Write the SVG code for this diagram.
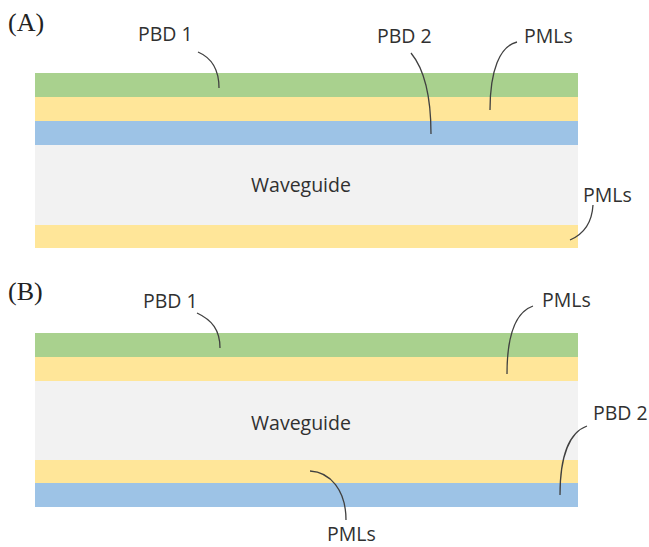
<svg xmlns="http://www.w3.org/2000/svg" width="649" height="547" viewBox="0 0 649 547">
<style>
.g{fill:#a9d18e}.y{fill:#ffe699}.b{fill:#9dc3e6}.w{fill:#f2f2f2}
.lbl{font-family:"Open Sans","DejaVu Sans",sans-serif;font-size:19.5px;fill:#303030}
.pl{font-family:"Liberation Serif","Times New Roman",serif;font-size:26px;fill:#222}
.ld{fill:none;stroke:#404040;stroke-width:1.3}
</style>
<rect width="649" height="547" fill="#fff"/>
<text class="pl" x="8" y="31">(A)</text>
<text class="pl" x="8" y="300">(B)</text>
<g id="panelA">
<rect class="g" x="35" y="73" width="543" height="24"/>
<rect class="y" x="35" y="97" width="543" height="24"/>
<rect class="b" x="35" y="121" width="543" height="24"/>
<rect class="w" x="35" y="145" width="543" height="80"/>
<rect class="y" x="35" y="225" width="543" height="23"/>
<text class="lbl" x="301" y="192" text-anchor="middle">Waveguide</text>
</g>
<g id="panelB">
<rect class="g" x="35" y="333" width="543" height="24"/>
<rect class="y" x="35" y="357" width="543" height="24"/>
<rect class="w" x="35" y="381" width="543" height="79"/>
<rect class="y" x="35" y="460" width="543" height="23"/>
<rect class="b" x="35" y="483" width="543" height="24"/>
<text class="lbl" x="301" y="430" text-anchor="middle">Waveguide</text>
</g>
<g id="labels">
<text class="lbl" x="138" y="41">PBD 1</text>
<text class="lbl" x="377" y="43">PBD 2</text>
<text class="lbl" x="524" y="43">PMLs</text>
<text class="lbl" x="583" y="202">PMLs</text>
<text class="lbl" x="143" y="308">PBD 1</text>
<text class="lbl" x="542" y="307">PMLs</text>
<text class="lbl" x="593" y="420">PBD 2</text>
<text class="lbl" x="327" y="541">PMLs</text>
</g>
<g id="connectors">
<path class="ld" d="M198,52 C212,58 219,70 219,88"/>
<path class="ld" d="M411,53 C425,70 431,100 431,134"/>
<path class="ld" d="M517,42 C500,46 490,70 490,110"/>
<path class="ld" d="M593,205 C592,222 584,234 570,240"/>
<path class="ld" d="M197,313 C212,320 220,330 220,348"/>
<path class="ld" d="M533,306 C516,312 507,335 507,374"/>
<path class="ld" d="M587,426 C570,432 560,455 560,495"/>
<path class="ld" d="M310,471 C330,472 346,490 346,520"/>
</g>
</svg>
